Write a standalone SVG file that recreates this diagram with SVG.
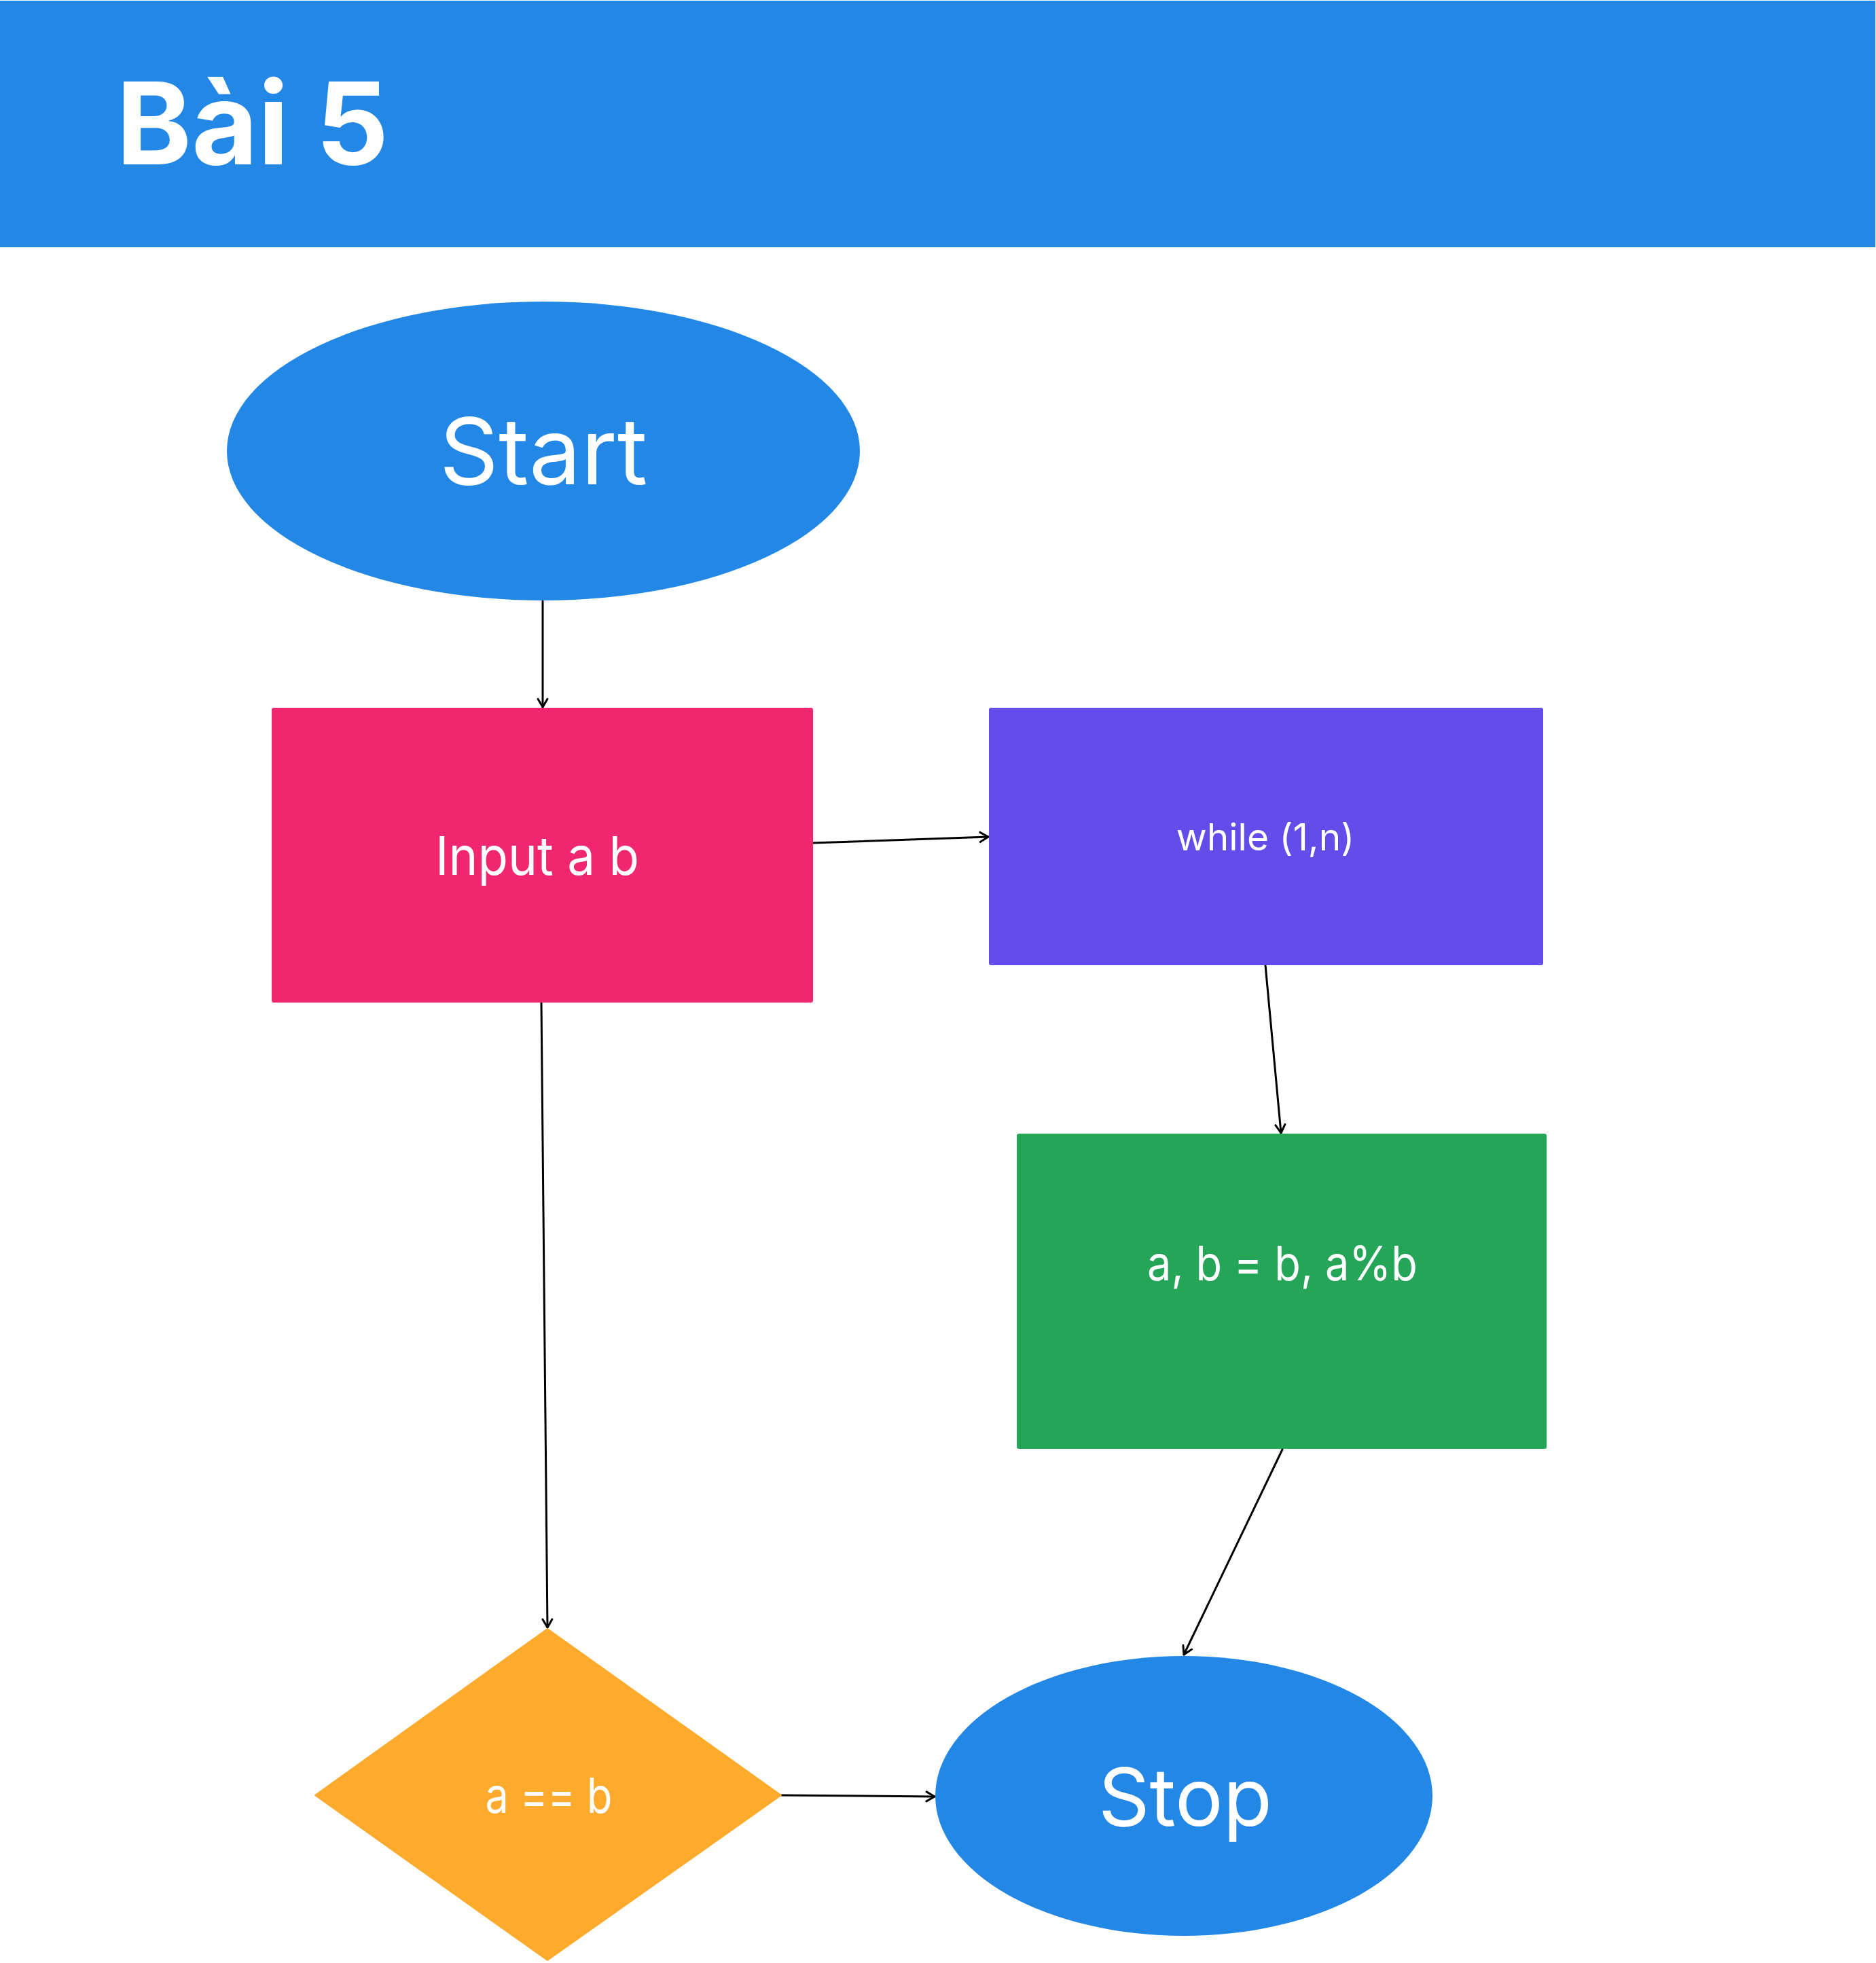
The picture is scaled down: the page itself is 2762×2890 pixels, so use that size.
<svg xmlns="http://www.w3.org/2000/svg" width="2762" height="2890" viewBox="0 0 2762 2890">
<style>
.lbl{font-family:Inter,"Liberation Sans",sans-serif;fill:#ffffff;text-anchor:middle}
.conn{stroke:#000000;stroke-width:3;fill:none;stroke-linecap:round;marker-end:url(#arr)}
</style>
<defs>
<marker id="arr" markerUnits="userSpaceOnUse" markerWidth="30" markerHeight="30" viewBox="-15 -15 30 30" refX="0" refY="0" orient="auto">
<path d="M-12,-7 L0,0 L-12,7" fill="none" stroke="#000000" stroke-width="3" stroke-linecap="round" stroke-linejoin="round"/>
</marker>
</defs>
<rect x="0" y="0" width="2762" height="2890" fill="#ffffff"/>
<g id="header">
<rect x="0" y="1" width="2761" height="363" fill="#2388E5"/>
<text x="171" y="242" font-family="Inter,'Liberation Sans',sans-serif" font-weight="700" font-size="168" fill="#ffffff">Bài 5</text>
</g>
<g id="connectors">
<line class="conn" x1="799" y1="885" x2="799" y2="1041"/>
<line class="conn" x1="1197" y1="1241" x2="1455" y2="1232"/>
<line class="conn" x1="1863" y1="1421" x2="1886" y2="1668"/>
<line class="conn" x1="1888" y1="2134" x2="1743" y2="2436"/>
<line class="conn" x1="797" y1="1477" x2="806" y2="2396"/>
<line class="conn" x1="1150" y1="2643" x2="1376" y2="2645"/>
</g>
<g id="start">
<ellipse cx="800" cy="664" rx="466" ry="220" fill="#2388E5"/>
<text class="lbl" x="800" y="713" font-size="136">Start</text>
</g>
<g id="input">
<rect x="400" y="1042" width="797" height="434" rx="3" fill="#F0266F"/>
<text class="lbl" x="791" y="1288" font-size="78" textLength="300" lengthAdjust="spacingAndGlyphs">Input a b</text>
</g>
<g id="while">
<rect x="1456" y="1042" width="816" height="379" rx="3" fill="#624CEA"/>
<text class="lbl" x="1863" y="1252" font-size="55">while (1,n)</text>
</g>
<g id="assign">
<rect x="1497" y="1669" width="780" height="464" rx="3" fill="#24A557"/>
<text class="lbl" x="1888" y="1885" font-size="70" textLength="398" lengthAdjust="spacingAndGlyphs">a, b = b, a%b</text>
</g>
<g id="cond">
<polygon points="806,2398 1150,2643 806,2886 464,2643" fill="#FEAA2D" stroke="#FEAA2D" stroke-width="2" stroke-linejoin="round"/>
<text class="lbl" x="808" y="2669" font-size="72" textLength="187" lengthAdjust="spacingAndGlyphs">a == b</text>
</g>
<g id="stop">
<ellipse cx="1743" cy="2644" rx="366" ry="206" fill="#2388E5"/>
<text class="lbl" x="1745" y="2688" font-size="118">Stop</text>
</g>
</svg>
